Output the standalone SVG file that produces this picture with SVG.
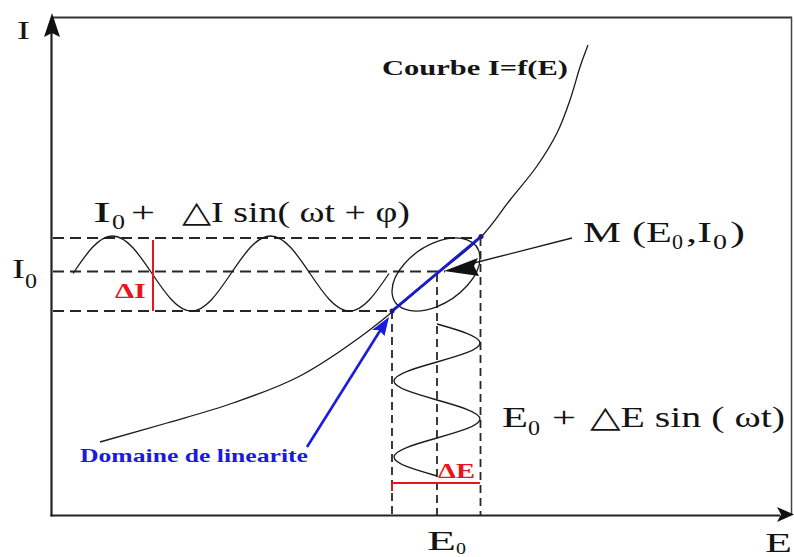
<svg xmlns="http://www.w3.org/2000/svg" width="794" height="557" viewBox="0 0 794 557">
<style>
text{font-family:'Liberation Serif','Times New Roman',serif;fill:#141414}
.b{font-weight:bold}
.red{fill:#e8161c}
.blue{fill:#1a1ae0}
.dash{stroke:#262626;stroke-width:1.8;fill:none;stroke-dasharray:11 6}
.vdash{stroke:#262626;stroke-width:1.8;fill:none;stroke-dasharray:8 5}
.thin{stroke:#1a1a1a;stroke-width:1.3;fill:none}
</style>
<rect width="794" height="557" fill="#fff"/>
<g id="frame">
<line x1="51.5" y1="17.5" x2="792" y2="17.5" stroke="#333" stroke-width="2"/>
<line x1="791.5" y1="17" x2="791.5" y2="515" stroke="#444" stroke-width="1.5"/>
<line x1="51.5" y1="20" x2="51.5" y2="516.5" stroke="#222" stroke-width="2.2"/>
<line x1="50.5" y1="515.5" x2="780" y2="515.5" stroke="#222" stroke-width="2.2"/>
<polygon points="52,13 60,37 52,33 44,37" fill="#111"/>
<polygon points="794,514.5 777,507 781,514.5 777,522" fill="#111"/>
<text x="17" y="39" font-size="26" textLength="13" lengthAdjust="spacingAndGlyphs">I</text>
<text x="765" y="552" font-size="28" textLength="27" lengthAdjust="spacingAndGlyphs">E</text>
</g>
<g id="guides">
<line class="dash" x1="53" y1="238" x2="481" y2="238"/>
<line class="dash" x1="53" y1="271.5" x2="445" y2="271.5"/>
<line class="dash" x1="53" y1="311" x2="392" y2="311"/>
<line class="vdash" x1="392" y1="311" x2="392" y2="515"/>
<line class="vdash" x1="437" y1="274" x2="437" y2="515"/>
<line class="vdash" x1="480.5" y1="238" x2="480.5" y2="515"/>
</g>
<g id="curve">
<path class="thin" d="M100,442 C111.2,438.8 144.8,429.5 167,423 C189.2,416.5 210.8,410.8 233,403 C255.2,395.2 277.7,387.8 300,376 C322.3,364.2 344.3,348.8 367,332 C389.7,315.2 417.2,290.7 436,275 C454.8,259.3 467.7,250.5 480,238 C492.3,225.5 500.5,212 510,200 C519.5,188 529.2,177.2 537,166 C544.8,154.8 551.5,144 557,133 C562.5,122 566.2,111 570,100 C573.8,89 577,76.2 580,67 C583,57.8 586.7,48.7 588,45"/>
<text class="b" x="382" y="75" font-size="21" textLength="186" lengthAdjust="spacingAndGlyphs">Courbe I=f(E)</text>
</g>
<g id="current-wave">
<path class="thin" d="M73,273.5 c12.9,-19.2 25.4,-37.5 39.5,-37.5 s26.6,18.3 39.5,37.5 s25.4,37.5 39.5,37.5 s26.6,-18.3 39.5,-37.5 s25.4,-37.5 39.5,-37.5 s26.6,18.3 39.5,37.5 s25.4,37.5 39.5,37.5 s26.6,-18.3 39.5,-37.5"/>
<line x1="153" y1="240" x2="153" y2="311" stroke="#e8161c" stroke-width="2"/>
<text class="b red" x="115" y="298" font-size="21" textLength="31" lengthAdjust="spacingAndGlyphs">ΔI</text>
<text x="93" y="222" font-size="30" textLength="18" lengthAdjust="spacingAndGlyphs">I</text>
<text x="112" y="229" font-size="20" textLength="13" lengthAdjust="spacingAndGlyphs">0</text>
<text x="131" y="222" font-size="30" textLength="24" lengthAdjust="spacingAndGlyphs">+</text>
<text x="182" y="222" font-size="30" textLength="228" lengthAdjust="spacingAndGlyphs">△I sin( ωt + φ)</text>
<text x="12" y="278" font-size="28" textLength="13" lengthAdjust="spacingAndGlyphs">I</text>
<text x="25" y="288" font-size="20" textLength="12" lengthAdjust="spacingAndGlyphs">0</text>
</g>
<g id="voltage-wave">
<path class="thin" d="M437,324 c22,6.2 43,12.2 43,19 s-21,12.8 -43,19 s-43,12.2 -43,19 s21,12.8 43,19 s43,12.2 43,19 s-21,12.8 -43,19 s-43,12.2 -43,19 s21,12.8 43,19"/>
<line x1="392" y1="483" x2="480" y2="483" stroke="#e8161c" stroke-width="2"/>
<line x1="392" y1="483" x2="392" y2="491" stroke="#e8161c" stroke-width="2"/>
<text class="b red" x="438" y="478" font-size="21" textLength="37" lengthAdjust="spacingAndGlyphs">ΔE</text>
<text x="502" y="427" font-size="30" textLength="26" lengthAdjust="spacingAndGlyphs">E</text>
<text x="528" y="435" font-size="20" textLength="12" lengthAdjust="spacingAndGlyphs">0</text>
<text x="552" y="427" font-size="30" textLength="24" lengthAdjust="spacingAndGlyphs">+</text>
<text x="590" y="427" font-size="30" textLength="195" lengthAdjust="spacingAndGlyphs">△E sin ( ωt)</text>
<text x="427" y="550" font-size="28" textLength="29" lengthAdjust="spacingAndGlyphs">E</text>
<text x="456" y="554" font-size="17" textLength="10" lengthAdjust="spacingAndGlyphs">0</text>
</g>
<g id="lissajous">
<circle cx="0" cy="0" r="1" fill="none" stroke="#1a1a1a" stroke-width="1.3" vector-effect="non-scaling-stroke" transform="matrix(44,-16.56,0,-32.53,436,274.5)"/>
</g>
<g id="linear-segment">
<line x1="392" y1="311" x2="481" y2="236.5" stroke="#1a1ad0" stroke-width="2.8"/>
<circle cx="392" cy="311" r="2.5" fill="#1a1a80"/>
<circle cx="481" cy="236.5" r="2.5" fill="#1a1a80"/>
</g>
<g id="connectors">
<line x1="307" y1="447" x2="383" y2="326" stroke="#1a1ae0" stroke-width="2.6"/>
<polygon points="389,317 384.5,336 379,330 372,330" fill="#1a1ae0"/>
<line x1="572" y1="238" x2="470" y2="264" stroke="#1a1a1a" stroke-width="1.3"/>
<polygon points="444,271 478,258 474,266 479,276" fill="#111"/>
</g>
<g id="labels">
<text class="b blue" x="80" y="462" font-size="19" textLength="228" lengthAdjust="spacingAndGlyphs">Domaine de linearite</text>
<text x="583" y="242" font-size="30" textLength="38" lengthAdjust="spacingAndGlyphs">M</text>
<text x="632" y="242" font-size="30" textLength="40" lengthAdjust="spacingAndGlyphs">(E</text>
<text x="672" y="249" font-size="20" textLength="11" lengthAdjust="spacingAndGlyphs">0</text>
<text x="686" y="242" font-size="30" textLength="26" lengthAdjust="spacingAndGlyphs">,I</text>
<text x="713" y="249" font-size="20" textLength="14" lengthAdjust="spacingAndGlyphs">0</text>
<text x="730" y="242" font-size="30" textLength="15" lengthAdjust="spacingAndGlyphs">)</text>
</g>
</svg>
